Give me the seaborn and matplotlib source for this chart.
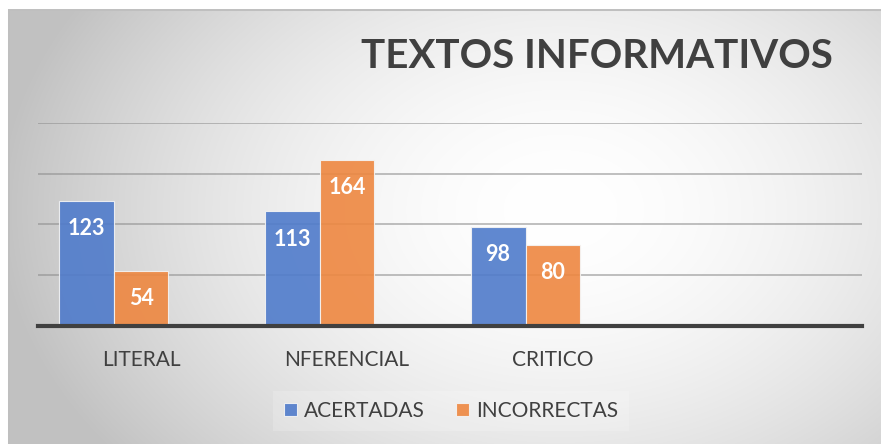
import numpy as np
import pandas as pd
import matplotlib
matplotlib.use("Agg")
import matplotlib.pyplot as plt
import seaborn as sns

# chart data (the source chart keeps a third, empty series slot)
categorias = ["LITERAL", "NFERENCIAL", "CRITICO"]
acertadas = [123, 113, 98]
incorrectas = [54, 164, 80]
vacia = [np.nan, np.nan, np.nan]
series = ["ACERTADAS", "INCORRECTAS", " "]
titulo = "TEXTOS INFORMATIVOS"

data = pd.DataFrame({
    "categoria": categorias * 3,
    "valor": acertadas + incorrectas + vacia,
    "serie": [s for s in series for _ in categorias],
})

sns.set_style("white")
plt.rcParams["font.family"] = ["Lato", "DejaVu Sans"]

W, H = 881, 444
fig = plt.figure(figsize=(W / 100, H / 100), dpi=100)

# radial grey background like the office chart style
yy, xx = np.mgrid[0:H, 0:W]
r = np.sqrt(((xx - 560) / 560.0) ** 2 + ((yy - 210) / 400.0) ** 2)
g = 1.0 - 0.24 * np.clip(r, 0, 1.2) ** 1.8
g = np.clip(g, 0.76, 1.0)
img = np.dstack([g, g, g])
img[:10, :, :] = 1.0
img[:, :8, :] = 1.0
img[10:12, 8:, :] = 0.75
img[10:, 8:10, :] = 0.75
bg = fig.add_axes([0, 0, 1, 1], zorder=-1)
bg.imshow(img, aspect="auto", interpolation="bilinear")
bg.axis("off")

ax = fig.add_axes([38 / W, (H - 326) / H, (862 - 38) / W, (326 - 123) / H], zorder=1)
ax.set_facecolor("none")

sns.barplot(data=data, x="categoria", y="valor", hue="serie", hue_order=series,
            palette=["#4F7BCB", "#EE8740", "#A5A5A5"], saturation=1, width=0.8, gap=0,
            alpha=0.9, edgecolor="#F4F4F4", linewidth=0.8, ax=ax, zorder=3)

ax.set_xlim(-0.5, 3.5)
ax.set_ylim(0, 200)
ax.set_yticks([50, 100, 150, 200])
ax.yaxis.grid(True, color="#8C8C8C", linewidth=1.4, alpha=0.55, zorder=1)
ax.set_axisbelow(True)
ax.tick_params(axis="y", left=False, labelleft=False)
ax.tick_params(axis="x", bottom=False, pad=14, labelsize=15, labelcolor="#404040")
for s in ["top", "right", "left"]:
    ax.spines[s].set_visible(False)
ax.spines["bottom"].set_color("#404040")
ax.spines["bottom"].set_linewidth(3)
ax.spines["bottom"].set_zorder(5)
ax.set_xlabel("")
ax.set_ylabel("")

# value labels inside the top of each bar
for cont in ax.containers:
    for p in cont:
        h = p.get_height()
        if np.isnan(h) or h == 0:
            continue
        ax.annotate(f"{h:.0f}", (p.get_x() + p.get_width() / 2, h),
                    xytext=(0, -20), textcoords="offset points", ha="center", va="center",
                    color="white", fontsize=15.5, fontweight="bold", zorder=6)

handles, labels = ax.get_legend_handles_labels()
leg = ax.legend(handles[:2], labels[:2], title=None, loc="center",
                bbox_to_anchor=(451 / W, (H - 411) / H),
                bbox_transform=fig.transFigure, ncol=2, frameon=True, fontsize=15,
                handlelength=0.62, handleheight=0.62, handletextpad=0.35, columnspacing=1.5,
                labelcolor="#404040", fancybox=False, borderpad=0.5)
leg.get_frame().set_facecolor("white")
leg.get_frame().set_alpha(0.18)
leg.get_frame().set_linewidth(0)

fig.text(597 / W, (H - 57) / H, titulo, ha="center", va="center",
         fontsize=29, fontweight="bold", color="#404040")

fig.savefig("out.png", dpi=100)
